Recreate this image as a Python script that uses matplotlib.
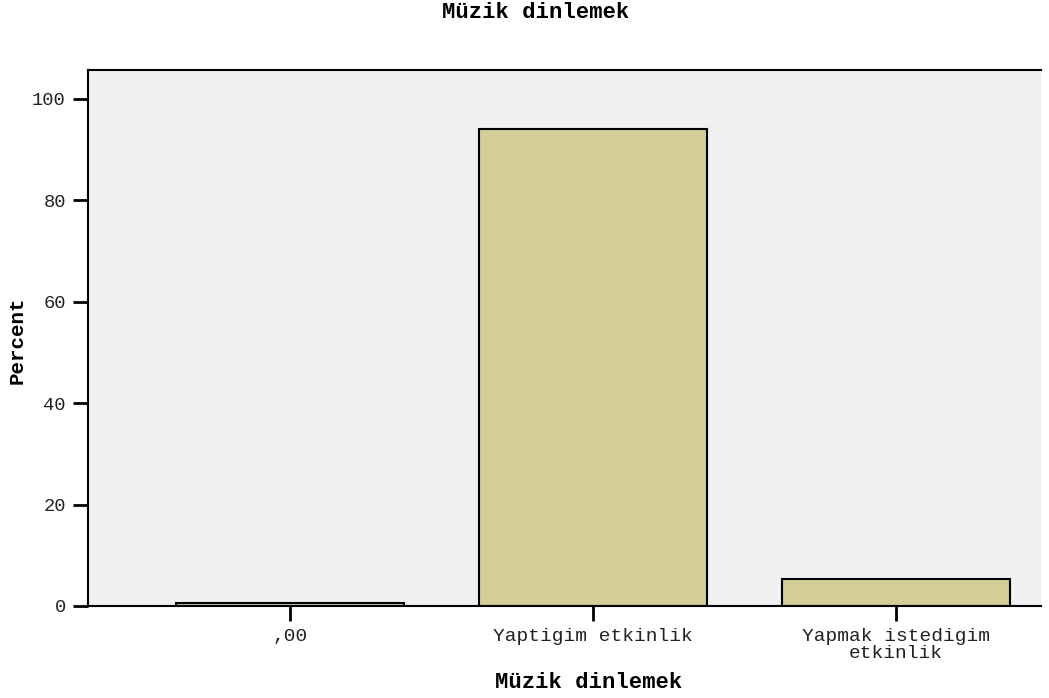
import matplotlib
matplotlib.use("Agg")
import matplotlib.pyplot as plt

# data
categories = [",00", "Yaptigim etkinlik", "Yapmak istedigim\netkinlik"]
percent = [0.6, 94.1, 5.3]
yticks = [0, 20, 40, 60, 80, 100]

plt.rcParams['font.family'] = ['Liberation Mono', 'DejaVu Sans Mono']

W, H = 1049, 698
fig = plt.figure(figsize=(W / 100, H / 100), dpi=100)
ax = fig.add_axes([88 / W, 1 - 606 / H, (1041 - 88) / W, (606 - 70) / H])
ax.set_facecolor('#f0f0f0')

x = list(range(len(categories)))
ax.bar(x, percent, width=0.75, color='#d3ce98', edgecolor='black', linewidth=1.5)

ax.set_xlim(-0.666, 2.478)
ax.set_ylim(0, 105.7)
ax.set_xticks(x)
ax.set_xticklabels(categories, fontsize=14, linespacing=0.95, color='#222222')
ax.set_yticks(yticks)
ax.set_yticklabels([str(v) for v in yticks], fontsize=13.5, color='#222222')
ax.tick_params(axis='both', direction='out', length=11, width=2, color='black', pad=5)

for s in ['left', 'bottom', 'top']:
    ax.spines[s].set_linewidth(1.5)
ax.spines['right'].set_visible(False)

# axis titles and chart title placed like the reference
fig.text(589 / W, 1 - 682 / H, "Müzik dinlemek", fontsize=16, fontweight='bold',
         ha='center', va='center')
fig.text(17 / W, 1 - 340 / H, "Percent", fontsize=15, fontweight='bold',
         rotation=90, ha='center', va='center')
fig.text(536 / W, 1 - 13 / H, "Müzik dinlemek", fontsize=16, fontweight='bold',
         ha='center', va='center')

fig.savefig("out.png", dpi=100)
